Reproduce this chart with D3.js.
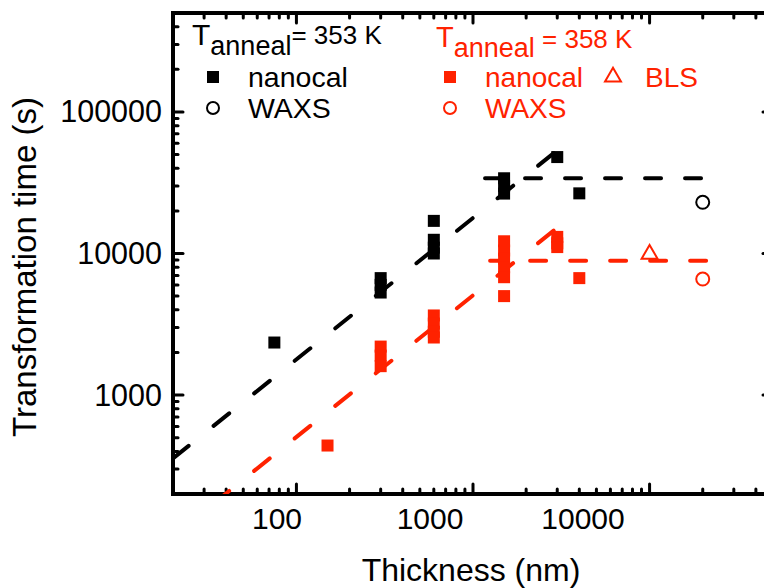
<!DOCTYPE html>
<html><head><meta charset="utf-8">
<script src="https://cdn.jsdelivr.net/npm/d3@7"></script>
<style>
html,body{margin:0;padding:0;background:#fff;}
svg{display:block;font-family:"Liberation Sans",Arial,sans-serif;}
</style></head>
<body><svg id="chart" width="764" height="588"></svg>
<script>
// ---- data ----
const blackNanocalX = [75, 300, 300, 300, 600, 600, 600, 600, 1500, 1500, 1500, 3000, 4000];
const blackNanocalY = [2350, 6700, 6000, 5300, 17000, 12500, 11000, 10000, 34000, 30000, 26500, 48000, 26600];
const blackWaxsX = [20000];
const blackWaxsY = [23000];
const redNanocalX = [150, 300, 300, 300, 600, 600, 600, 600, 1500, 1500, 1500, 1500, 1500, 1500, 3000, 3000, 3000, 4000];
const redNanocalY = [440, 2200, 1900, 1600, 3650, 3200, 2800, 2550, 12200, 10500, 9200, 8000, 6800, 5000, 13100, 11800, 11100, 6700];
const redWaxsX = [20000];
const redWaxsY = [6600];
const redBlsX = [10000];
const redBlsY = [9900];
// fit lines (endpoints)
const blackSlopeX = [20, 3000];
const blackSlopeY = [357, 53500];
const blackFlatX = [1170, 21000];
const blackFlatY = [34000, 34000];
const redSlopeX = [20, 3000];
const redSlopeY = [101, 15200];
const redFlatX = [1250, 22900];
const redFlatY = [8900, 8900];
const xTickLabels = [100, 1000, 10000];
const yTickLabels = [1000, 10000, 100000];

// ---- layout ----
const svg = d3.select("#chart");
const L = 173, R = 773, T = 13, B = 494;
const x = d3.scaleLog().domain([20, 50000]).range([L, R]);
const y = d3.scaleLog().domain([200, 500000]).range([B, T]);
// the x tick labels of the original sit on a slightly narrower scale than its ticks
const xLab = d3.scaleLog().domain([100, 10000]).range([277, 583]);
const BLACK = "#000", RED = "#ff2200";

svg.append("clipPath").attr("id","clip").append("rect")
  .attr("x", L).attr("y", T).attr("width", R - L).attr("height", B - T);

function tickVals(lo, hi){
  const out=[];
  for(let e=Math.floor(Math.log10(lo)); e<=Math.ceil(Math.log10(hi)); e++){
    for(let m=1;m<10;m++){const v=m*Math.pow(10,e); if(v>=lo*0.999&&v<=hi*1.001) out.push({v, major:m===1});}
  }
  return out;
}
const tg = svg.append("g").attr("stroke", BLACK).attr("stroke-width", 3).attr("stroke-linecap","round");
tickVals(20, 50000).forEach(t=>{
  const len = t.major ? 10 : 5;
  const px = x(t.v);
  if (px <= L+1 || px >= R-1) return;
  tg.append("line").attr("x1",px).attr("x2",px).attr("y1",B).attr("y2",B-len);
  tg.append("line").attr("x1",px).attr("x2",px).attr("y1",T).attr("y2",T+len);
});
tickVals(200, 500000).forEach(t=>{
  const len = t.major ? 10 : 5;
  const py = y(t.v);
  if (py >= B-1 || py <= T+1) return;
  tg.append("line").attr("y1",py).attr("y2",py).attr("x1",L).attr("x2",L+len);
  tg.append("line").attr("y1",py).attr("y2",py).attr("x1",R).attr("x2",R-len);
});

svg.append("rect").attr("x",L).attr("y",T).attr("width",R-L).attr("height",B-T)
  .attr("fill","none").attr("stroke",BLACK).attr("stroke-width",4);

// labels
function txt(g, px, py, s, size, anchor, color){
  return g.append("text").attr("x",px).attr("y",py).attr("font-size",size)
    .attr("text-anchor",anchor).attr("fill",color||BLACK).text(s);
}
const lab = svg.append("g");
xTickLabels.forEach(v=> txt(lab, xLab(v), 529, d3.format("d")(v), 30, "middle"));
yTickLabels.forEach(v=> txt(lab, 162, y(v)+10.5, d3.format("d")(v), 30.5, "end"));
txt(lab, 471, 581, "Thickness (nm)", 32, "middle");
svg.append("g").attr("transform",`translate(36,267) rotate(-90)`)
  .append("text").attr("font-size",33).attr("text-anchor","middle").attr("fill",BLACK)
  .text("Transformation time (s)");

// lines
const lineGen = d3.line().x(d=>x(d[0])).y(d=>y(d[1]));
const lg = svg.append("g").attr("clip-path","url(#clip)").attr("fill","none")
  .attr("stroke-width",4).attr("stroke-linecap","round");
function addLine(xs, ys, color, dash){
  lg.append("path").datum(xs.map((v,i)=>[v, ys[i]])).attr("d", lineGen)
    .attr("stroke", color).attr("stroke-dasharray", dash);
}
addLine(blackSlopeX, blackSlopeY, BLACK, "20 32");
addLine(blackFlatX, blackFlatY, BLACK, "16 24");
addLine(redSlopeX, redSlopeY, RED, "20 32");
addLine(redFlatX, redFlatY, RED, "16 24");

// markers
const S = 12;
const mg = svg.append("g");
function pts(xs, ys){ return xs.map((v,i)=>[v, ys[i]]); }
function squares(xs, ys, color){
  mg.append("g").selectAll("rect").data(pts(xs,ys)).join("rect")
    .attr("x", d=>x(d[0])-S/2).attr("y", d=>y(d[1])-S/2).attr("width",S).attr("height",S)
    .attr("fill", color);
}
function circles(xs, ys, color){
  mg.append("g").selectAll("circle").data(pts(xs,ys)).join("circle")
    .attr("cx", d=>x(d[0])).attr("cy", d=>y(d[1])).attr("r",6.5)
    .attr("fill","none").attr("stroke",color).attr("stroke-width",2);
}
function triangles(xs, ys, color){
  const tri = d3.symbol().type(d3.symbolTriangle).size(110);
  mg.append("g").selectAll("path").data(pts(xs,ys)).join("path")
    .attr("transform", d=>`translate(${x(d[0])},${y(d[1])})`).attr("d", tri)
    .attr("fill","none").attr("stroke",color).attr("stroke-width",2);
}
squares(blackNanocalX, blackNanocalY, BLACK);
circles(blackWaxsX, blackWaxsY, BLACK);
squares(redNanocalX, redNanocalY, RED);
circles(redWaxsX, redWaxsY, RED);
triangles(redBlsX, redBlsY, RED);

// legend
const lgd = svg.append("g");
function tanneal(px, py, color, tSize, rest, restDy){
  const t = lgd.append("text").attr("x",px).attr("y",py).attr("fill",color);
  t.append("tspan").attr("font-size",tSize).text("T");
  t.append("tspan").attr("font-size",27).attr("dy",10).text("anneal");
  t.append("tspan").attr("font-size",26).attr("dy",restDy).text(rest);
}
tanneal(192, 45, BLACK, 30, "= 353 K", -11);
tanneal(436, 47, RED, 29, " = 358 K", -9);
lgd.append("rect").attr("x",207).attr("y",71).attr("width",12).attr("height",12).attr("fill",BLACK);
txt(lgd, 248, 87, "nanocal", 28.5, "start", BLACK);
lgd.append("circle").attr("cx",213).attr("cy",108).attr("r",6).attr("fill","none").attr("stroke",BLACK).attr("stroke-width",2);
txt(lgd, 248, 118, "WAXS", 28.5, "start", BLACK);
lgd.append("rect").attr("x",444).attr("y",71).attr("width",12).attr("height",12).attr("fill",RED);
txt(lgd, 485, 87, "nanocal", 28, "start", RED);
lgd.append("path").attr("transform","translate(613,77)").attr("d", d3.symbol().type(d3.symbolTriangle).size(110))
  .attr("fill","none").attr("stroke",RED).attr("stroke-width",2);
txt(lgd, 645, 87, "BLS", 28, "start", RED);
lgd.append("circle").attr("cx",450).attr("cy",108).attr("r",6).attr("fill","none").attr("stroke",RED).attr("stroke-width",2);
txt(lgd, 485, 118, "WAXS", 28, "start", RED);
</script></body></html>
